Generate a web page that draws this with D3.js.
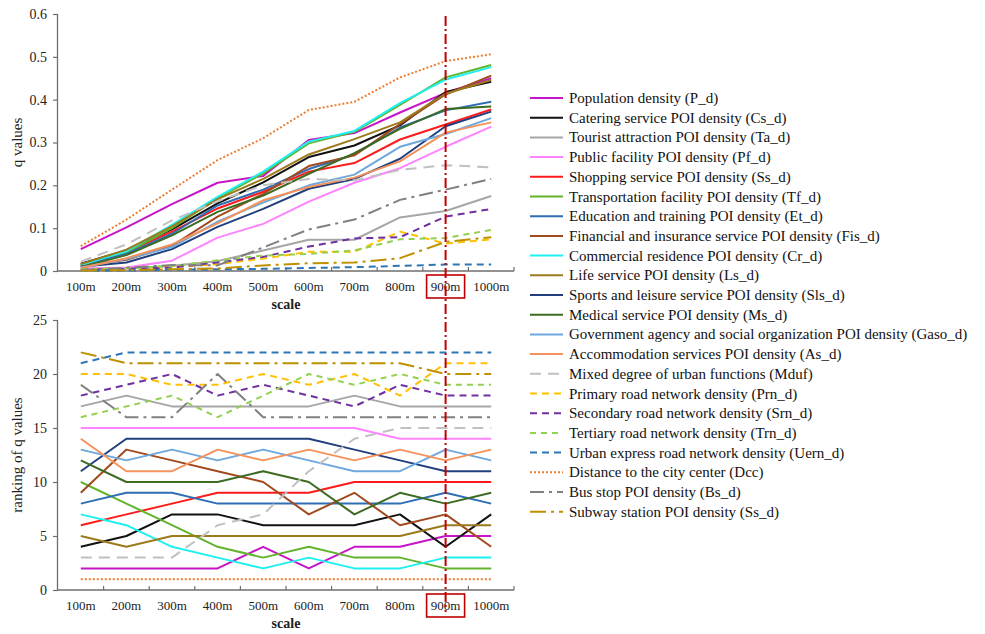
<!DOCTYPE html>
<html>
<head>
<meta charset="utf-8">
<script src="https://cdn.jsdelivr.net/npm/d3@7"></script>
<style>
  body { margin: 0; background: #fff; }
  svg text { font-family: "Liberation Serif", "Times New Roman", serif; }
</style>
</head>
<body>
<svg id="chart" width="985" height="634"></svg>
<script>
// Analysis scales (grid sizes)
const scales = ["100m", "200m", "300m", "400m", "500m", "600m", "700m", "800m", "900m", "1000m"];
const highlightScale = "900m";
const qTicks = [0, 0.1, 0.2, 0.3, 0.4, 0.5, 0.6];
const rankTicks = [0, 5, 10, 15, 20, 25];

// q values of each factor at each scale
const q_P_d    = [0.051, 0.102, 0.156, 0.206, 0.222, 0.306, 0.322, 0.370, 0.416, 0.450];
const q_Cs_d   = [0.017, 0.048, 0.097, 0.158, 0.207, 0.266, 0.293, 0.340, 0.418, 0.442];
const q_Ta_d   = [0.0035, 0.006, 0.012, 0.023, 0.048, 0.073, 0.073, 0.125, 0.140, 0.175];
const q_Pf_d   = [0.006, 0.008, 0.024, 0.078, 0.110, 0.162, 0.206, 0.240, 0.290, 0.337];
const q_Ss_d   = [0.015, 0.044, 0.092, 0.146, 0.185, 0.232, 0.252, 0.307, 0.342, 0.377];
const q_Tf_d   = [0.011, 0.043, 0.100, 0.170, 0.228, 0.298, 0.325, 0.388, 0.452, 0.481];
const q_Et_d   = [0.013, 0.040, 0.087, 0.153, 0.190, 0.238, 0.272, 0.335, 0.375, 0.395];
const q_Fis_d  = [0.012, 0.026, 0.059, 0.127, 0.180, 0.245, 0.270, 0.343, 0.412, 0.456];
const q_Cr_d   = [0.014, 0.046, 0.108, 0.173, 0.232, 0.302, 0.327, 0.392, 0.447, 0.476];
const q_Ls_d   = [0.016, 0.050, 0.104, 0.168, 0.215, 0.272, 0.308, 0.347, 0.414, 0.446];
const q_Sls_d  = [0.010, 0.020, 0.051, 0.103, 0.145, 0.192, 0.215, 0.262, 0.338, 0.372];
const q_Ms_d   = [0.009, 0.037, 0.083, 0.138, 0.176, 0.227, 0.275, 0.332, 0.378, 0.384];
const q_Gaso_d = [0.008, 0.028, 0.056, 0.115, 0.160, 0.200, 0.225, 0.290, 0.320, 0.357];
const q_As_d   = [0.007, 0.030, 0.062, 0.111, 0.165, 0.196, 0.218, 0.256, 0.323, 0.347];
const q_Mduf   = [0.022, 0.062, 0.118, 0.163, 0.200, 0.215, 0.212, 0.236, 0.247, 0.242];
const q_Prn_d  = [0.002, 0.004, 0.0095, 0.016, 0.029, 0.045, 0.045, 0.092, 0.064, 0.074];
const q_Srn_d  = [0.003, 0.005, 0.008, 0.020, 0.033, 0.057, 0.076, 0.079, 0.127, 0.145];
const q_Trn_d  = [0.004, 0.007, 0.011, 0.025, 0.036, 0.040, 0.048, 0.074, 0.077, 0.096];
const q_Uern_d = [0.0015, 0.001, 0.003, 0.004, 0.005, 0.007, 0.009, 0.012, 0.015, 0.015];
const q_Dcc    = [0.058, 0.120, 0.190, 0.259, 0.310, 0.376, 0.395, 0.452, 0.490, 0.506];
const q_Bs_d   = [0.0025, 0.0075, 0.014, 0.013, 0.055, 0.097, 0.120, 0.166, 0.190, 0.215];
const q_Sub_d  = [0.001, 0.002, 0.004, 0.006, 0.013, 0.018, 0.020, 0.030, 0.068, 0.079];

// ranking of q values (1 = largest) at each scale
const r_P_d    = [2, 2, 2, 2, 4, 2, 4, 4, 5, 5];
const r_Cs_d   = [4, 5, 7, 7, 6, 6, 6, 7, 4, 7];
const r_Ta_d   = [17, 18, 17, 17, 17, 17, 18, 17, 17, 17];
const r_Pf_d   = [15, 15, 15, 15, 15, 15, 15, 14, 14, 14];
const r_Ss_d   = [6, 7, 8, 9, 9, 9, 10, 10, 10, 10];
const r_Tf_d   = [10, 8, 6, 4, 3, 4, 3, 3, 2, 2];
const r_Et_d   = [8, 9, 9, 8, 8, 8, 8, 8, 9, 8];
const r_Fis_d  = [9, 13, 12, 11, 10, 7, 9, 6, 7, 4];
const r_Cr_d   = [7, 6, 4, 3, 2, 3, 2, 2, 3, 3];
const r_Ls_d   = [5, 4, 5, 5, 5, 5, 5, 5, 6, 6];
const r_Sls_d  = [11, 14, 14, 14, 14, 14, 13, 12, 11, 11];
const r_Ms_d   = [12, 10, 10, 10, 11, 10, 7, 9, 8, 9];
const r_Gaso_d = [13, 12, 13, 12, 13, 12, 11, 11, 13, 12];
const r_As_d   = [14, 11, 11, 13, 12, 13, 12, 13, 12, 13];
const r_Mduf   = [3, 3, 3, 6, 7, 11, 14, 15, 15, 15];
const r_Prn_d  = [20, 20, 19, 19, 20, 19, 20, 18, 21, 21];
const r_Srn_d  = [18, 19, 20, 18, 19, 18, 17, 19, 18, 18];
const r_Trn_d  = [16, 17, 18, 16, 18, 20, 19, 20, 19, 19];
const r_Uern_d = [21, 22, 22, 22, 22, 22, 22, 22, 22, 22];
const r_Dcc    = [1, 1, 1, 1, 1, 1, 1, 1, 1, 1];
const r_Bs_d   = [19, 16, 16, 20, 16, 16, 16, 16, 16, 16];
const r_Sub_d  = [22, 21, 21, 21, 21, 21, 21, 21, 20, 20];

// factor labels
const labels = [
  "Population density (P_d)",
  "Catering service POI density (Cs_d)",
  "Tourist attraction POI density (Ta_d)",
  "Public facility POI density (Pf_d)",
  "Shopping service POI density (Ss_d)",
  "Transportation facility POI density (Tf_d)",
  "Education and training POI density (Et_d)",
  "Financial and insurance service POI density (Fis_d)",
  "Commercial residence POI density (Cr_d)",
  "Life service POI density (Ls_d)",
  "Sports and leisure service POI density (Sls_d)",
  "Medical service POI density (Ms_d)",
  "Government agency and social organization POI density (Gaso_d)",
  "Accommodation services POI density (As_d)",
  "Mixed degree of urban functions (Mduf)",
  "Primary road network density (Prn_d)",
  "Secondary road network density (Srn_d)",
  "Tertiary road network density (Trn_d)",
  "Urban express road network density (Uern_d)",
  "Distance to the city center (Dcc)",
  "Bus stop POI density (Bs_d)",
  "Subway station POI density (Ss_d)"
];
const qSeries = [q_P_d, q_Cs_d, q_Ta_d, q_Pf_d, q_Ss_d, q_Tf_d, q_Et_d, q_Fis_d, q_Cr_d, q_Ls_d, q_Sls_d,
  q_Ms_d, q_Gaso_d, q_As_d, q_Mduf, q_Prn_d, q_Srn_d, q_Trn_d, q_Uern_d, q_Dcc, q_Bs_d, q_Sub_d];
const rankSeries = [r_P_d, r_Cs_d, r_Ta_d, r_Pf_d, r_Ss_d, r_Tf_d, r_Et_d, r_Fis_d, r_Cr_d, r_Ls_d, r_Sls_d,
  r_Ms_d, r_Gaso_d, r_As_d, r_Mduf, r_Prn_d, r_Srn_d, r_Trn_d, r_Uern_d, r_Dcc, r_Bs_d, r_Sub_d];

// line styles
const colors = ["#C814C8", "#111111", "#A6A6A6", "#FF82FF", "#FF1A1A", "#62B32E", "#2F6EB5", "#A04A1E",
  "#1EF0F0", "#9C7A1C", "#203F7C", "#3C6B21", "#6FA8DC", "#F4925C", "#C0C0C0", "#FFC000",
  "#7030A0", "#92D050", "#2E75B6", "#ED7D31", "#808080", "#BF9000"];
const dashes = [null, null, null, null, null, null, null, null, null, null, null, null, null, null,
  "11,7", "7,5", "7,5", "6,5", "7,5", "2,2", "14,5,3,5", "16,5,3,5"];

const series = labels.map((label, i) => ({
  label, color: colors[i], dash: dashes[i],
  q: qSeries[i].map((v, j) => ({ s: scales[j], v })),
  r: rankSeries[i].map((v, j) => ({ s: scales[j], v }))
}));

const svg = d3.select("#chart");
const axisColor = "#6E6E6E";
const left = 58, right = 514;

const x = d3.scalePoint().domain(scales).range([left, right]).padding(0.5);
const band = d3.scaleBand().domain(scales).range([left, right]);

function drawPanel(yScale, ticks, fmt, key, title, labelY, titleY) {
  const [y0, y1] = yScale.range();
  const g = svg.append("g");
  // y axis
  const ya = g.append("g").attr("transform", `translate(${left},0)`)
    .call(d3.axisLeft(yScale).tickValues(ticks).tickFormat(fmt).tickSize(5).tickPadding(6));
  ya.select(".domain").attr("stroke", axisColor).attr("stroke-width", 1.3)
    .attr("d", `M-0.5,${y0}V${y1}`);
  ya.selectAll(".tick line").attr("stroke", axisColor).attr("stroke-width", 1.2);
  ya.selectAll(".tick text").attr("fill", "#222").style("font-size", "14px")
    .style("font-family", "'Liberation Serif', serif");
  // x axis line and ticks between scales
  g.append("line").attr("x1", left).attr("x2", right).attr("y1", y0).attr("y2", y0)
    .attr("stroke", axisColor).attr("stroke-width", 1.3);
  g.selectAll(".xt").data(scales).join("line")
    .attr("x1", d => band(d) + band.bandwidth()).attr("x2", d => band(d) + band.bandwidth())
    .attr("y1", y0).attr("y2", y0 - 4).attr("stroke", axisColor).attr("stroke-width", 1.2);
  g.selectAll(".xl").data(scales).join("text")
    .attr("x", d => x(d)).attr("y", labelY).attr("text-anchor", "middle")
    .style("font-size", "13px").attr("fill", "#222").text(d => d);
  g.append("text").attr("x", (left + right) / 2).attr("y", titleY).attr("text-anchor", "middle")
    .style("font-size", "14px").style("font-weight", "bold").attr("fill", "#222").text("scale");
  // series lines
  const line = d3.line().x(d => x(d.s)).y(d => yScale(d.v));
  g.selectAll(".s").data(series).join("path")
    .attr("d", d => line(d[key]))
    .attr("fill", "none").attr("stroke", d => d.color).attr("stroke-width", 2)
    .attr("stroke-dasharray", d => d.dash).attr("stroke-linejoin", "round");
  // y title
  g.append("text").attr("transform", `translate(22,${(y0 + y1) / 2}) rotate(-90)`)
    .attr("text-anchor", "middle").style("font-size", "15px").attr("fill", "#222").text(title);
}

const yq = d3.scaleLinear().domain([0, 0.6]).range([271, 14]);
const yr = d3.scaleLinear().domain([0, 25]).range([590, 320]);

drawPanel(yq, qTicks, d => d === 0 ? "0" : d.toFixed(1), "q", "q values", 291, 309);
drawPanel(yr, rankTicks, d => String(d), "r", "ranking of q values", 610, 628);

// highlighted scale marker
const hx = x(highlightScale);
svg.append("line").attr("x1", hx).attr("x2", hx).attr("y1", 16).attr("y2", 612)
  .attr("stroke", "#C00000").attr("stroke-width", 2).attr("stroke-dasharray", "10,3,2,3");
[[275, 298], [594, 617]].forEach(([t, b]) => {
  svg.append("rect").attr("x", hx - 19).attr("y", t).attr("width", 38).attr("height", b - t)
    .attr("fill", "none").attr("stroke", "#C00000").attr("stroke-width", 1.6);
});

// legend
const lg = svg.append("g");
const item = lg.selectAll("g").data(series).join("g")
  .attr("transform", (d, i) => `translate(530,${98 + i * 19.7})`);
item.append("line").attr("x1", 0).attr("x2", 33).attr("y1", 0).attr("y2", 0)
  .attr("stroke", d => d.color).attr("stroke-width", 2).attr("stroke-dasharray", d => d.dash);
item.append("text").attr("x", 39).attr("y", 5).style("font-size", "15px").attr("fill", "#111")
  .text(d => d.label);
</script>
</body>
</html>
